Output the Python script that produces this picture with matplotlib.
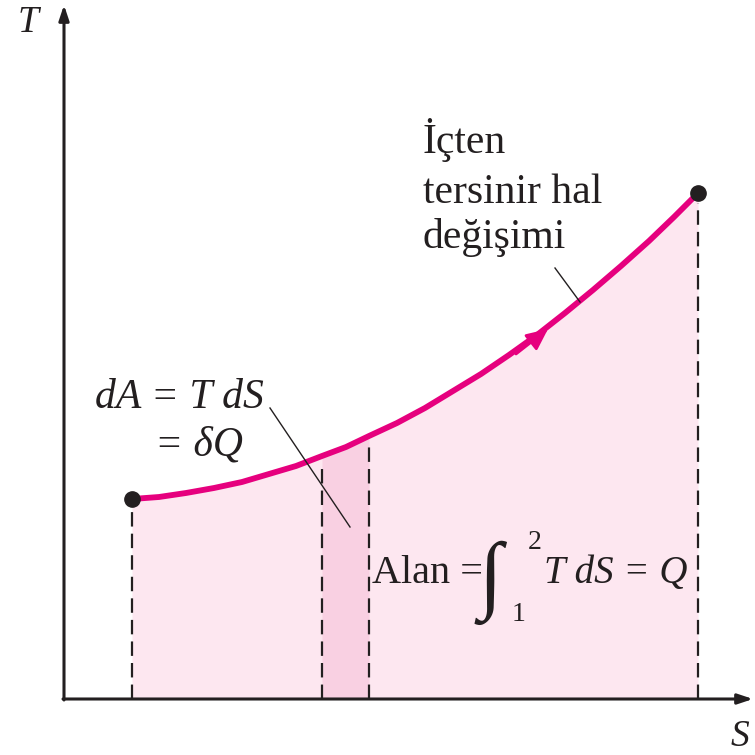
import matplotlib
matplotlib.use("Agg")
from matplotlib import pyplot as plt
import numpy as np

# T-S diagram, values (origin at the axes corner)
S_curve = np.array([68, 95, 122, 150, 178, 205, 232, 258, 282, 305, 333, 361,
                    389, 417, 445, 473, 501, 529, 557, 585, 610, 634])
T_curve = np.array([200, 202, 206, 211, 217, 225, 233, 243, 252, 263, 276, 291,
                    308, 325, 344, 364, 386, 409, 433, 458, 482, 506])
S_strip = (258, 305)          # the dS slice
S_ends = (68, 634)            # states 1 and 2

pink = '#e6007e'
fill_light = '#fde7f0'
fill_dark = '#f9d0e2'
ink = '#231f20'

plt.rcParams['font.family'] = ['Liberation Serif', 'DejaVu Serif']

fig = plt.figure(figsize=(7.55, 7.55), dpi=100)
ax = fig.add_axes([0, 0, 1, 1])
ax.set_xlim(-64, 691)
ax.set_ylim(-56, 699)
ax.axis('off')

# area under the curve
ax.fill_between(S_curve, 0, T_curve, color=fill_light, lw=0, zorder=1)
m = (S_curve >= S_strip[0]) & (S_curve <= S_strip[1])
ax.fill_between(S_curve[m], 0, T_curve[m], color=fill_dark, lw=0, zorder=2)

# dashed verticals
for s in list(S_ends) + list(S_strip):
    t = np.interp(s, S_curve, T_curve)
    ax.plot([s, s], [0, t - 10], color=ink, lw=1.6,
            linestyle=(0, (6.5, 3.2)), zorder=3)

# process curve
ax.plot(S_curve, T_curve, color=pink, lw=4.2, solid_capstyle='butt',
        solid_joinstyle='round', zorder=4)
ax.annotate('', xy=(484, 370), xytext=(452, 345),
            arrowprops=dict(arrowstyle='-|>,head_length=1.3,head_width=0.6',
                            color=pink, lw=2, shrinkA=0, shrinkB=0), zorder=5)
ax.plot(S_ends, [T_curve[0], T_curve[-1]], 'o', color=ink, ms=11, zorder=6)

# axes with arrows
arr = dict(arrowstyle='-|>,head_length=0.9,head_width=0.3', color=ink, lw=2.2,
           shrinkA=0, shrinkB=0)
ax.annotate('', xy=(689, 0), xytext=(-1, 0), arrowprops=arr)
ax.annotate('', xy=(0, 694), xytext=(0, -1), arrowprops=arr)
ax.text(-36, 676, 'T', fontsize=27, style='italic', ha='center', va='center', color=ink)
ax.text(676, -38, 'S', fontsize=27, style='italic', ha='center', va='center', color=ink)

# labels
ax.text(31, 291, 'dA = T dS', fontsize=30, style='italic', color=ink)
ax.text(91, 244, '= δQ', fontsize=30, style='italic', color=ink)
ax.plot([206, 286], [291, 172], color=ink, lw=1.0, zorder=5)

ax.text(359, 546, 'İçten', fontsize=30, color=ink)
ax.text(359, 496, 'tersinir hal', fontsize=30, color=ink)
ax.text(359, 451, 'değişimi', fontsize=30, color=ink)
ax.plot([491, 516], [431, 397], color=ink, lw=1.0, zorder=5)

ax.text(308, 116, 'Alan =', fontsize=29, color=ink)
ax.text(415, 97, '∫', fontsize=62, color=ink, style='italic')
ax.text(464, 150, '2', fontsize=20, color=ink)
ax.text(448, 78, '1', fontsize=20, color=ink)
ax.text(480, 116, 'T dS = Q', fontsize=28, style='italic', color=ink)

fig.savefig('out.png', dpi=100)
